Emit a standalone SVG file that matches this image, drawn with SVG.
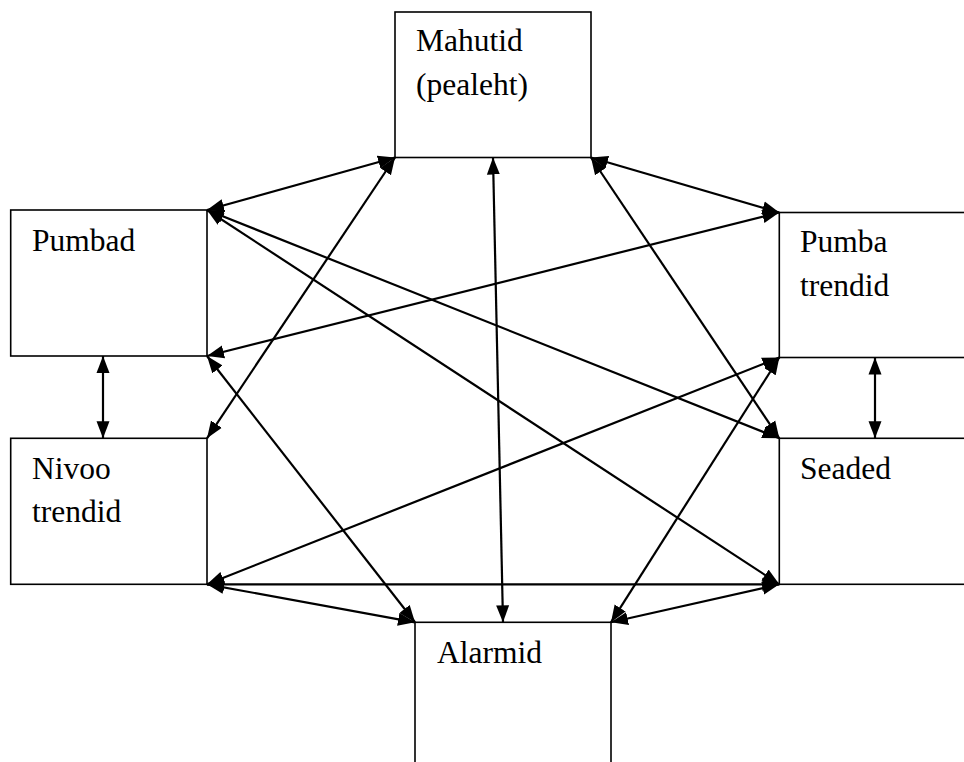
<svg xmlns="http://www.w3.org/2000/svg" width="964" height="762" viewBox="0 0 964 762">
<style>
.box{fill:#fff;stroke:#000;stroke-width:1.6}
.lbl{font-family:"Liberation Serif","Times New Roman",serif;font-size:31.5px;fill:#000}
.c{stroke:#000;stroke-width:2.2;fill:none;marker-start:url(#ah);marker-end:url(#ah)}
</style>
<defs>
<marker id="ah" markerUnits="userSpaceOnUse" markerWidth="18" markerHeight="14" refX="17" refY="6.5" orient="auto-start-reverse" viewBox="0 0 18 13">
<path d="M0,0 L17,6.5 L0,13 z" fill="#000"/>
</marker>
</defs>
<rect width="964" height="762" fill="#fff"/>
<g id="mahutid"><rect class="box" x="395" y="12" width="196" height="145.5"/><text class="lbl" x="416" y="51">Mahutid</text><text class="lbl" x="416" y="95">(pealeht)</text></g>
<g id="pumbad"><rect class="box" x="10.7" y="210" width="196.3" height="146"/><text class="lbl" x="32" y="251">Pumbad</text></g>
<g id="pumba-trendid"><rect class="box" x="779.3" y="212.5" width="200" height="145"/><text class="lbl" x="800" y="252">Pumba</text><text class="lbl" x="800" y="296">trendid</text></g>
<g id="nivoo-trendid"><rect class="box" x="10.7" y="438.3" width="196.3" height="146"/><text class="lbl" x="32" y="479">Nivoo</text><text class="lbl" x="32" y="522">trendid</text></g>
<g id="seaded"><rect class="box" x="779.3" y="438.3" width="200" height="146"/><text class="lbl" x="800" y="479">Seaded</text></g>
<g id="alarmid"><rect class="box" x="415" y="622.3" width="196" height="160"/><text class="lbl" x="437" y="663">Alarmid</text></g>
<g id="connectors">
<line class="c" x1="395" y1="157.5" x2="207" y2="210"/>
<line class="c" x1="395" y1="157.5" x2="207" y2="438.3"/>
<line class="c" x1="493" y1="157.5" x2="503" y2="622.3"/>
<line class="c" x1="591" y1="157.5" x2="779.3" y2="212.5"/>
<line class="c" x1="591" y1="157.5" x2="779.3" y2="438.3"/>
<line class="c" x1="207" y1="210" x2="779.3" y2="438.3"/>
<line class="c" x1="207" y1="210" x2="779.3" y2="584.3"/>
<line class="c" x1="779.3" y1="212.5" x2="207" y2="356"/>
<line class="c" x1="207" y1="356" x2="415" y2="622.3"/>
<line class="c" x1="779.3" y1="357.5" x2="207" y2="584.3"/>
<line class="c" x1="779.3" y1="357.5" x2="611" y2="622.3"/>
<line class="c" x1="207" y1="584.3" x2="779.3" y2="584.3"/>
<line class="c" x1="207" y1="584.3" x2="415" y2="622.3"/>
<line class="c" x1="779.3" y1="584.3" x2="611" y2="622.3"/>
<line class="c" x1="103" y1="356" x2="103" y2="438.3"/>
<line class="c" x1="875" y1="357.5" x2="875" y2="438.3"/>
</g>
</svg>
